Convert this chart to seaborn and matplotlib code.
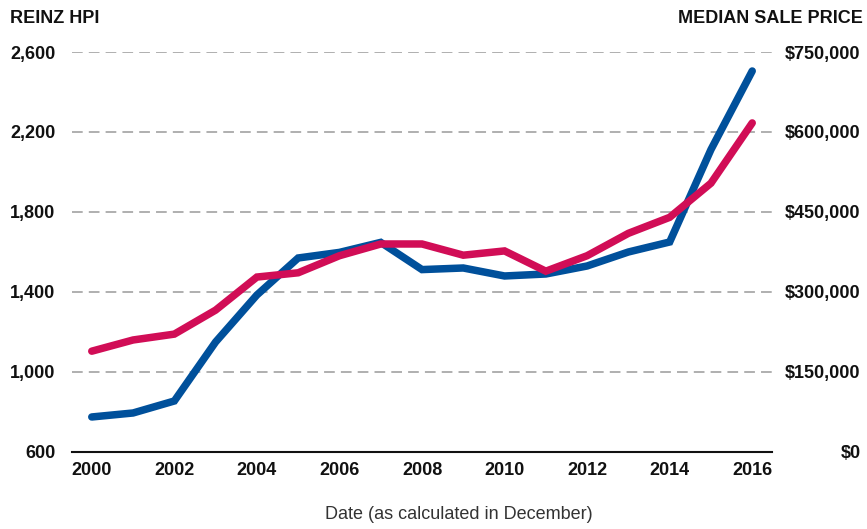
import numpy as np
import pandas as pd
import seaborn as sns
import matplotlib.pyplot as plt
from matplotlib.ticker import FuncFormatter

years = list(range(2000, 2017))
hpi = [775, 795, 855, 1150, 1385, 1570, 1598, 1648, 1512, 1520, 1480, 1490, 1530, 1600, 1650, 2112, 2505]
median_price = [189000, 210000, 221000, 266000, 328000, 336000, 368000, 390000, 390000,
                369000, 377000, 339000, 368000, 410000, 440000, 504000, 617000]

hpi_ticks = [600, 1000, 1400, 1800, 2200, 2600]
price_ticks = [0, 150000, 300000, 450000, 600000, 750000]

blue = '#00509b'
pink = '#d10d56'

df = pd.DataFrame({'year': years, 'hpi': hpi, 'price': median_price})

sns.set_theme(style='white')
plt.rcParams['font.family'] = ['Liberation Sans', 'DejaVu Sans']

fig = plt.figure(figsize=(8.67, 5.29), dpi=100)
ax = fig.add_axes([0.083, 0.1456, 0.807, 0.7561])
ax2 = ax.twinx()

# gridlines (skip the baseline)
for t in hpi_ticks[1:]:
    ax.axhline(t, color='#9a9a9a', lw=1.1, dashes=(7, 4), zorder=0)

sns.lineplot(data=df, x='year', y='hpi', ax=ax, color=blue, lw=5.4,
             solid_capstyle='round', solid_joinstyle='miter', clip_on=False)
sns.lineplot(data=df, x='year', y='price', ax=ax2, color=pink, lw=5.4,
             solid_capstyle='round', solid_joinstyle='miter', clip_on=False)

ax.set_xlim(1999.52, 2016.47)
ax.set_ylim(600, 2600)
ax2.set_ylim(0, 750000)
ax.set_xticks(years[::2])
ax.set_yticks(hpi_ticks)
ax2.set_yticks(price_ticks)
ax.yaxis.set_major_formatter(FuncFormatter(lambda v, p: f'{int(v):,}'))
ax2.yaxis.set_major_formatter(FuncFormatter(lambda v, p: f'${int(v):,}'))

for a in (ax, ax2):
    for s in a.spines.values():
        s.set_visible(False)
    a.tick_params(length=0, labelsize=13, colors='#111111')
    for lbl in a.get_xticklabels() + a.get_yticklabels():
        lbl.set_fontweight('bold')
    a.grid(False)
ax.spines['bottom'].set_visible(True)
ax.spines['bottom'].set_color('#111111')
ax.spines['bottom'].set_linewidth(1.5)

ax.tick_params(axis='y', pad=12)
ax2.tick_params(axis='y', pad=64)
for lbl in ax2.get_yticklabels():
    lbl.set_horizontalalignment('right')
ax.tick_params(axis='x', pad=7)
ax2.set_ylabel('')
ax.set_ylabel('')
ax.set_xlabel('Date (as calculated in December)', fontsize=13, color='#333333', labelpad=20)
ax.xaxis.label.set_x(0.553)

fig.text(0.012, 0.965, 'REINZ HPI', fontsize=13, fontweight='bold', va='center', ha='left', color='#111111')
fig.text(0.995, 0.965, 'MEDIAN SALE PRICE', fontsize=13, fontweight='bold', va='center', ha='right', color='#111111')

fig.savefig('out.png', dpi=100)
